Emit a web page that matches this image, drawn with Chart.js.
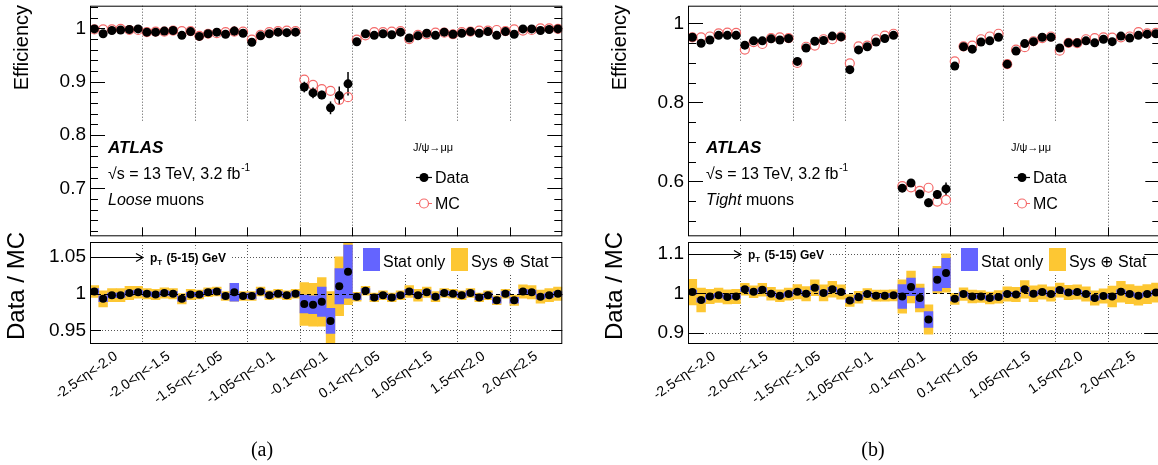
<!DOCTYPE html>
<html>
<head>
<meta charset="utf-8">
<script src="https://cdn.jsdelivr.net/npm/chart.js@4.4.1/dist/chart.umd.min.js"></script>
<style>
html, body { margin: 0; padding: 0; background: #fff; overflow: hidden; }
#page { position: relative; width: 1158px; height: 465px; overflow: hidden; background: #fff; }
canvas { position: absolute; }
.cap { position: absolute; top: 438px; width: 60px; text-align: center; font-family: 'Liberation Serif', serif; font-size: 20px; line-height: 22px; }
</style>
</head>
<body>
<div id="page">
  <canvas id="effA" width="580" height="242" style="left:0;top:0"></canvas>
  <canvas id="ratioA" width="580" height="240" style="left:0;top:225px"></canvas>
  <canvas id="effB" width="580" height="242" style="left:598px;top:0"></canvas>
  <canvas id="ratioB" width="580" height="240" style="left:598px;top:225px"></canvas>
  <div class="cap" style="left:232px">(a)</div>
  <div class="cap" style="left:843px">(b)</div>
</div>
<script>
// eta regions, each split in 6 phi bins
const etaLabels = ['-2.5<η<-2.0', '-2.0<η<-1.5', '-1.5<η<-1.05', '-1.05<η<-0.1', '-0.1<η<0.1',
                   '0.1<η<1.05', '1.05<η<1.5', '1.5<η<2.0', '2.0<η<2.5'];
const segBounds = [6, 12, 18, 24, 30, 36, 42, 48];

// (a) Loose muons
const looseEffData = [0.999, 0.990, 0.996, 0.997, 0.998, 0.999,
                      0.993, 0.993, 0.995, 0.996, 0.987, 0.994,
                      0.985, 0.990, 0.993, 0.989, 0.995, 0.991,
                      0.974, 0.986, 0.990, 0.993, 0.992, 0.993,
                      0.890, 0.879, 0.875, 0.851, 0.874, 0.896,
                      0.975, 0.990, 0.987, 0.990, 0.988, 0.993,
                      0.982, 0.986, 0.991, 0.987, 0.993, 0.989,
                      0.991, 0.994, 0.991, 0.994, 0.987, 0.994,
                      0.989, 0.999, 0.999, 0.996, 0.998, 0.999];
const looseEffErr = [0.002, 0.002, 0.002, 0.002, 0.002, 0.002,
                     0.002, 0.002, 0.002, 0.002, 0.002, 0.002,
                     0.002, 0.002, 0.002, 0.002, 0.009, 0.002,
                     0.003, 0.002, 0.002, 0.002, 0.002, 0.002,
                     0.010, 0.010, 0.008, 0.012, 0.017, 0.022,
                     0.002, 0.002, 0.002, 0.002, 0.002, 0.002,
                     0.002, 0.002, 0.002, 0.002, 0.002, 0.002,
                     0.002, 0.002, 0.002, 0.002, 0.002, 0.002,
                     0.002, 0.002, 0.002, 0.002, 0.002, 0.002];
const looseEffMC = [0.998, 0.998, 0.998, 0.999, 0.997, 0.997,
                    0.993, 0.994, 0.994, 0.996, 0.995, 0.995,
                    0.986, 0.990, 0.991, 0.993, 0.994, 0.994,
                    0.979, 0.988, 0.993, 0.995, 0.996, 0.995,
                    0.904, 0.894, 0.886, 0.883, 0.866, 0.871,
                    0.979, 0.987, 0.993, 0.993, 0.994, 0.995,
                    0.980, 0.988, 0.989, 0.992, 0.992, 0.989,
                    0.993, 0.994, 0.996, 0.996, 0.997, 0.995,
                    0.998, 0.996, 0.997, 1.000, 1.000, 0.999];
const looseRatio = [1.003, 0.993, 0.998, 0.998, 1.001, 1.002,
                    1.000, 0.999, 1.001, 1.000, 0.993, 0.999,
                    0.999, 1.002, 1.003, 0.997, 1.002, 0.997,
                    0.997, 1.003, 0.998, 1.000, 0.998, 1.000,
                    0.986, 0.985, 0.989, 0.963, 1.010, 1.030,
                    0.996, 1.004, 0.995, 0.998, 0.995, 0.998,
                    1.003, 0.998, 1.002, 0.996, 1.001, 1.000,
                    0.998, 1.001, 0.995, 0.998, 0.991, 1.000,
                    0.991, 1.003, 1.002, 0.996, 0.998, 1.000];
const looseStat = [0.004, 0.004, 0.003, 0.003, 0.003, 0.003,
                   0.003, 0.003, 0.003, 0.003, 0.003, 0.003,
                   0.003, 0.003, 0.003, 0.003, 0.012, 0.003,
                   0.004, 0.003, 0.003, 0.003, 0.003, 0.003,
                   0.012, 0.012, 0.020, 0.017, 0.024, 0.036,
                   0.004, 0.003, 0.003, 0.003, 0.003, 0.003,
                   0.003, 0.003, 0.003, 0.003, 0.003, 0.003,
                   0.003, 0.003, 0.003, 0.003, 0.004, 0.003,
                   0.004, 0.003, 0.003, 0.003, 0.003, 0.003];
const looseSysStat = [0.008, 0.011, 0.009, 0.009, 0.009, 0.008,
                      0.007, 0.007, 0.007, 0.007, 0.007, 0.007,
                      0.006, 0.006, 0.006, 0.006, 0.012, 0.006,
                      0.006, 0.006, 0.006, 0.006, 0.006, 0.006,
                      0.029, 0.029, 0.033, 0.040, 0.040, 0.045,
                      0.006, 0.006, 0.006, 0.006, 0.006, 0.006,
                      0.008, 0.008, 0.007, 0.007, 0.006, 0.006,
                      0.006, 0.006, 0.006, 0.006, 0.006, 0.006,
                      0.007, 0.009, 0.009, 0.009, 0.009, 0.009];

// (b) Tight muons
const tightEffData = [0.965, 0.950, 0.958, 0.970, 0.970, 0.970,
                      0.945, 0.956, 0.956, 0.961, 0.958, 0.962,
                      0.904, 0.938, 0.955, 0.957, 0.968, 0.966,
                      0.883, 0.933, 0.941, 0.953, 0.962, 0.970,
                      0.583, 0.596, 0.568, 0.546, 0.567, 0.581,
                      0.892, 0.941, 0.935, 0.953, 0.956, 0.965,
                      0.897, 0.930, 0.949, 0.954, 0.965, 0.965,
                      0.938, 0.951, 0.951, 0.956, 0.951, 0.960,
                      0.954, 0.968, 0.963, 0.970, 0.973, 0.974];
const tightEffErr = [0.003, 0.003, 0.003, 0.003, 0.003, 0.003,
                     0.003, 0.003, 0.003, 0.003, 0.003, 0.003,
                     0.003, 0.003, 0.003, 0.003, 0.003, 0.003,
                     0.003, 0.003, 0.003, 0.003, 0.003, 0.003,
                     0.006, 0.009, 0.008, 0.011, 0.011, 0.016,
                     0.003, 0.003, 0.003, 0.003, 0.003, 0.003,
                     0.003, 0.003, 0.003, 0.003, 0.003, 0.003,
                     0.003, 0.003, 0.003, 0.003, 0.003, 0.003,
                     0.003, 0.003, 0.003, 0.003, 0.003, 0.003];
const tightEffMC = [0.965, 0.965, 0.967, 0.975, 0.977, 0.976,
                    0.934, 0.953, 0.948, 0.963, 0.965, 0.963,
                    0.900, 0.941, 0.944, 0.960, 0.960, 0.967,
                    0.899, 0.942, 0.944, 0.960, 0.969, 0.974,
                    0.588, 0.585, 0.576, 0.584, 0.549, 0.553,
                    0.904, 0.942, 0.944, 0.960, 0.967, 0.974,
                    0.897, 0.934, 0.940, 0.955, 0.963, 0.967,
                    0.931, 0.951, 0.950, 0.960, 0.963, 0.965,
                    0.964, 0.965, 0.967, 0.978, 0.975, 0.976];
const tightRatio = [1.003, 0.983, 0.992, 0.995, 0.991, 0.992,
                    1.010, 1.004, 1.009, 0.999, 0.994, 0.998,
                    1.004, 0.999, 1.014, 1.001, 1.010, 1.003,
                    0.982, 0.990, 0.998, 0.994, 0.994, 0.995,
                    0.992, 1.016, 0.988, 0.934, 1.034, 1.051,
                    0.986, 0.998, 0.992, 0.992, 0.988, 0.991,
                    0.998, 0.997, 1.010, 0.999, 1.003, 0.998,
                    1.008, 1.002, 1.003, 0.998, 0.988, 0.993,
                    0.992, 1.004, 0.998, 0.994, 0.998, 1.002];
const tightStat = [0.005, 0.005, 0.005, 0.005, 0.005, 0.005,
                   0.005, 0.005, 0.005, 0.005, 0.005, 0.005,
                   0.005, 0.005, 0.005, 0.005, 0.005, 0.005,
                   0.005, 0.005, 0.005, 0.005, 0.005, 0.005,
                   0.030, 0.022, 0.025, 0.020, 0.028, 0.037,
                   0.005, 0.005, 0.005, 0.005, 0.005, 0.005,
                   0.005, 0.005, 0.005, 0.005, 0.005, 0.005,
                   0.005, 0.005, 0.005, 0.005, 0.005, 0.005,
                   0.005, 0.005, 0.005, 0.005, 0.005, 0.005];
const tightSysStat = [0.032, 0.030, 0.018, 0.018, 0.018, 0.018,
                      0.015, 0.015, 0.016, 0.016, 0.015, 0.015,
                      0.018, 0.018, 0.020, 0.020, 0.020, 0.018,
                      0.015, 0.015, 0.014, 0.014, 0.014, 0.014,
                      0.042, 0.040, 0.035, 0.037, 0.034, 0.048,
                      0.014, 0.016, 0.016, 0.015, 0.015, 0.016,
                      0.018, 0.018, 0.022, 0.020, 0.018, 0.018,
                      0.018, 0.018, 0.018, 0.018, 0.018, 0.018,
                      0.026, 0.026, 0.024, 0.024, 0.024, 0.024];

const FONT = "'Liberation Sans', 'DejaVu Sans', Arial, sans-serif";
Chart.defaults.font.family = FONT;
Chart.defaults.color = '#000';

const BLUE = '#6464ff';
const YELLOW = '#fdc733';
const MCRED = '#f46a6a';

function pts(vals) {
    return vals.map(function (v, i) { return { x: i + 0.5, y: v }; });
}

function band(vals, err) {
    return vals.map(function (v, i) { return { x: i + 0.5, y: [v - err[i], v + err[i]] }; });
}

function steps(min, max, step) {
    const out = [];
    for (let k = Math.ceil(min / step - 1e-6); k * step <= max + 1e-9; k++) out.push(+(k * step).toFixed(4));
    return out;
}

function vline(ctx, px, y0, y1) {
    ctx.beginPath(); ctx.moveTo(px, y0); ctx.lineTo(px, y1); ctx.stroke();
}

function drawBoundaries(ctx, a, x) {
    ctx.strokeStyle = '#555';
    ctx.lineWidth = 1;
    ctx.setLineDash([1, 2]);
    segBounds.forEach(function (b) {
        vline(ctx, Math.round(x.getPixelForValue(b)) + 0.5, a.top, a.bottom);
    });
    ctx.setLineDash([]);
}

function drawFrame(ctx, a, y, major, minor, majLen, minLen) {
    ctx.strokeStyle = '#000';
    ctx.lineWidth = 1;
    ctx.strokeRect(a.left + 0.5, a.top + 0.5, a.width - 1, a.height - 1);
    [[major, majLen], [minor, minLen]].forEach(function (set) {
        set[0].forEach(function (v) {
            const py = Math.round(y.getPixelForValue(v)) + 0.5;
            ctx.beginPath();
            ctx.moveTo(a.left, py); ctx.lineTo(a.left + set[1], py);
            ctx.moveTo(a.right, py); ctx.lineTo(a.right - set[1], py);
            ctx.stroke();
        });
    });
}

function sideTitle(ctx, text, x, top, size) {
    ctx.save();
    ctx.translate(x, top);
    ctx.rotate(-Math.PI / 2);
    ctx.font = size + 'px ' + FONT;
    ctx.fillStyle = '#000';
    ctx.textAlign = 'right';
    ctx.textBaseline = 'alphabetic';
    ctx.fillText(text, 0, 0);
    ctx.restore();
}

function effPad(p) {
    return {
        id: 'effPad',
        beforeDatasetsDraw(chart) {
            const ctx = chart.ctx, a = chart.chartArea, x = chart.scales.x, y = chart.scales.y;
            const L = a.left;
            ctx.save();
            drawBoundaries(ctx, a, x);
            ctx.fillStyle = '#fff';
            ctx.fillRect(L + 1, 122, 175, 106);
            ctx.fillRect(L + 300, 122, p.legendW, 106);

            ctx.fillStyle = '#000';
            ctx.textAlign = 'left';
            ctx.textBaseline = 'alphabetic';
            ctx.font = 'italic bold 17px ' + FONT;
            ctx.fillText('ATLAS', L + 18, 153);
            ctx.font = '16px ' + FONT;
            const line2 = '√s = 13 TeV, 3.2 fb';
            ctx.fillText(line2, L + 18, 179);
            const w2 = ctx.measureText(line2).width;
            ctx.font = '10px ' + FONT;
            ctx.fillText('-1', L + 19 + w2, 171);
            ctx.font = 'italic 16px ' + FONT;
            ctx.fillText(p.muon, L + 18, 205);
            const w3 = ctx.measureText(p.muon).width;
            ctx.font = '16px ' + FONT;
            ctx.fillText(' muons', L + 18 + w3, 205);

            ctx.font = '11px ' + FONT;
            ctx.fillText('J/ψ→μμ', L + 323, 151);
            // legend entries
            ctx.lineWidth = 1.2;
            ctx.strokeStyle = '#000';
            ctx.beginPath(); ctx.moveTo(L + 326, 177.5); ctx.lineTo(L + 342, 177.5); ctx.stroke();
            ctx.beginPath(); ctx.arc(L + 334, 177.5, 4.5, 0, 2 * Math.PI); ctx.fill();
            ctx.strokeStyle = MCRED;
            ctx.beginPath(); ctx.moveTo(L + 326, 203.5); ctx.lineTo(L + 329.5, 203.5);
            ctx.moveTo(L + 338.5, 203.5); ctx.lineTo(L + 342, 203.5); ctx.stroke();
            ctx.beginPath(); ctx.arc(L + 334, 203.5, 4.5, 0, 2 * Math.PI); ctx.stroke();
            ctx.font = '16px ' + FONT;
            ctx.fillText('Data', L + 345, 183);
            ctx.fillText('MC', L + 345, 209);

            // data error bars
            ctx.strokeStyle = '#000';
            ctx.lineWidth = 1.5;
            chart.data.datasets.forEach(function (ds) {
                if (!ds.errors) return;
                ds.data.forEach(function (d, i) {
                    const px = x.getPixelForValue(d.x);
                    vline(ctx, px, y.getPixelForValue(d.y - ds.errors[i]), y.getPixelForValue(d.y + ds.errors[i]));
                });
            });
            ctx.restore();
        },
        afterDraw(chart) {
            const ctx = chart.ctx, a = chart.chartArea, x = chart.scales.x, y = chart.scales.y;
            ctx.save();
            const minor = steps(p.effMin, p.effMax, p.minorStep).filter(function (v) { return p.effLabels.indexOf(v) < 0; });
            drawFrame(ctx, a, y, p.effLabels, minor, 15, 8);
            segBounds.forEach(function (b) {
                vline(ctx, Math.round(x.getPixelForValue(b)) + 0.5, a.bottom, a.bottom - 9);
            });
            sideTitle(ctx, 'Efficiency', 28, 5, 20);
            ctx.restore();
        }
    };
}

function ratioPad(p) {
    return {
        id: 'ratioPad',
        beforeDatasetsDraw(chart) {
            const ctx = chart.ctx, a = chart.chartArea, x = chart.scales.x, y = chart.scales.y;
            const L = a.left, T = a.top;
            ctx.save();
            drawBoundaries(ctx, a, x);
            const yHi = Math.round(y.getPixelForValue(p.hi)) + 0.5;
            const yLo = Math.round(y.getPixelForValue(p.lo)) + 0.5;
            ctx.fillStyle = '#fff';
            ctx.fillRect(L + 56, yHi - 9, 86, 17);
            ctx.fillRect(L + 270, T + 2, 200, 30);
            ctx.strokeStyle = '#555';
            ctx.setLineDash([1, 2]);
            ctx.beginPath(); ctx.moveTo(a.left, yLo); ctx.lineTo(a.right, yLo); ctx.stroke();
            ctx.beginPath(); ctx.moveTo(L + 142, yHi); ctx.lineTo(L + 270, yHi); ctx.stroke();
            ctx.setLineDash([]);

            // pT arrow and label
            ctx.strokeStyle = '#000';
            ctx.lineWidth = 1.2;
            ctx.beginPath(); ctx.moveTo(L + 3, yHi); ctx.lineTo(L + 53, yHi);
            ctx.moveTo(L + 46, yHi - 4); ctx.lineTo(L + 53, yHi); ctx.lineTo(L + 46, yHi + 4); ctx.stroke();
            ctx.fillStyle = '#000';
            ctx.textAlign = 'left';
            ctx.textBaseline = 'alphabetic';
            ctx.font = 'bold 12px ' + FONT;
            ctx.fillText('p', L + 60, yHi + 4);
            const wp = ctx.measureText('p').width;
            ctx.font = 'bold 8px ' + FONT;
            ctx.fillText('T', L + 60 + wp, yHi + 7);
            const wt = ctx.measureText('T').width;
            ctx.font = 'bold 12px ' + FONT;
            ctx.fillText(' (5-15) GeV', L + 61 + wp + wt, yHi + 4);

            // band legend
            ctx.fillStyle = BLUE;
            ctx.fillRect(L + 273, T + 6, 17, 23);
            ctx.fillStyle = YELLOW;
            ctx.fillRect(L + 361, T + 6, 17, 23);
            ctx.fillStyle = '#000';
            ctx.font = '16px ' + FONT;
            ctx.fillText('Stat only', L + 293, T + 25);
            ctx.fillText('Sys ⊕ Stat', L + 381, T + 25);
            ctx.restore();
        },
        afterDatasetDraw(chart, args) {
            if (args.index !== 1) return;
            const ctx = chart.ctx, a = chart.chartArea, y = chart.scales.y;
            const y1 = Math.round(y.getPixelForValue(1)) + 0.5;
            ctx.save();
            ctx.strokeStyle = '#000';
            ctx.lineWidth = 1;
            ctx.setLineDash([4, 3]);
            ctx.beginPath(); ctx.moveTo(a.left, y1); ctx.lineTo(a.right, y1); ctx.stroke();
            ctx.restore();
        },
        afterDraw(chart) {
            const ctx = chart.ctx, a = chart.chartArea, y = chart.scales.y;
            ctx.save();
            drawFrame(ctx, a, y, p.ratioLabels, [], p.tickLen, 0);
            sideTitle(ctx, 'Data / MC', 24, 7, 24);
            ctx.restore();
        }
    };
}

function baseOptions(padTop) {
    return {
        responsive: false,
        animation: false,
        devicePixelRatio: 1,
        events: [],
        layout: { padding: { left: 0, right: 17.7, top: padTop, bottom: 0 } },
        plugins: { legend: { display: false }, tooltip: { enabled: false } }
    };
}

function yAxis(min, max, labels) {
    return {
        type: 'linear', min: min, max: max,
        grid: { display: false, drawTicks: false },
        border: { display: false },
        afterBuildTicks: function (s) { s.ticks = labels.map(function (v) { return { value: v }; }); },
        ticks: { padding: 4, font: { size: 19 }, callback: function (v) { return String(+v.toFixed(2)); } },
        afterFit: function (s) { s.width = 90; s.paddingTop = 0; s.paddingBottom = 0; }
    };
}

function makeEff(id, p) {
    const opts = baseOptions(5);
    opts.scales = {
        x: { type: 'linear', min: 0, max: 54, offset: false, display: false },
        y: yAxis(p.effMin, p.effMax, p.effLabels)
    };
    new Chart(document.getElementById(id), {
        type: 'scatter',
        data: {
            datasets: [
                { label: 'Data', data: pts(p.data), errors: p.err, order: 0,
                  pointRadius: 4.5, pointBorderWidth: 0, pointBackgroundColor: '#000', pointBorderColor: '#000' },
                { label: 'MC', data: pts(p.mc), order: 1,
                  pointRadius: 4.5, pointBorderWidth: 1.2, pointBackgroundColor: 'rgba(255,255,255,0)', pointBorderColor: MCRED }
            ]
        },
        options: opts,
        plugins: [effPad(p)]
    });
}

function makeRatio(id, p) {
    const opts = baseOptions(17);
    opts.scales = {
        x: {
            type: 'linear', min: 0, max: 54, offset: false,
            grid: { display: false, drawTicks: false },
            border: { display: false },
            afterBuildTicks: function (s) { s.ticks = etaLabels.map(function (_, k) { return { value: 6 * k + 3 }; }); },
            ticks: { autoSkip: false, minRotation: 35, maxRotation: 35, padding: 4, font: { size: 14 },
                     callback: function (v, i) { return etaLabels[i]; } },
            afterFit: function (s) { s.height = 121; }
        },
        y: yAxis(p.ratioMin, p.ratioMax, p.ratioLabels)
    };
    new Chart(document.getElementById(id), {
        type: 'scatter',
        data: {
            datasets: [
                { type: 'bar', label: 'Sys+Stat', data: band(p.ratio, p.sys), order: 3, grouped: false, clip: 0,
                  backgroundColor: YELLOW, borderWidth: 0, barPercentage: 1, categoryPercentage: 1 },
                { type: 'bar', label: 'Stat only', data: band(p.ratio, p.stat), order: 2, grouped: false, clip: 0,
                  backgroundColor: BLUE, borderWidth: 0, barPercentage: 1, categoryPercentage: 1 },
                { label: 'Data / MC', data: pts(p.ratio), order: 1,
                  pointRadius: 4, pointBorderWidth: 0, pointBackgroundColor: '#000', pointBorderColor: '#000' }
            ]
        },
        options: opts,
        plugins: [ratioPad(p)]
    });
}

const panelA = {
    muon: 'Loose', legendW: 140,
    data: looseEffData, err: looseEffErr, mc: looseEffMC,
    effMin: 0.61, effMax: 1.0426, effLabels: [0.7, 0.8, 0.9, 1], minorStep: 0.02,
    ratio: looseRatio, stat: looseStat, sys: looseSysStat,
    ratioMin: 0.9316, ratioMax: 1.0703, ratioLabels: [0.95, 1, 1.05], hi: 1.05, lo: 0.95, tickLen: 11
};
const panelB = {
    muon: 'Tight', legendW: 110,
    data: tightEffData, err: tightEffErr, mc: tightEffMC,
    effMin: 0.461, effMax: 1.045, effLabels: [0.6, 0.8, 1], minorStep: 0.05,
    ratio: tightRatio, stat: tightStat, sys: tightSysStat,
    ratioMin: 0.8725, ratioMax: 1.129, ratioLabels: [0.9, 1, 1.1], hi: 1.1, lo: 0.9, tickLen: 16
};

makeEff('effA', panelA);
makeRatio('ratioA', panelA);
makeEff('effB', panelB);
makeRatio('ratioB', panelB);
</script>
</body>
</html>
